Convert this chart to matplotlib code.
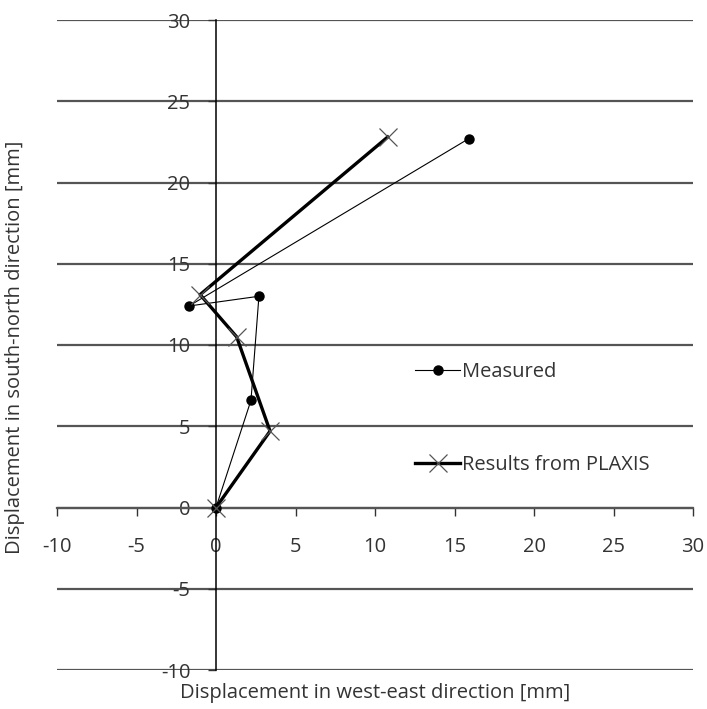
import matplotlib
matplotlib.use('Agg')
import matplotlib.pyplot as plt

# west-east (x) and south-north (y) displacements, mm
measured_x = [0.0, 2.2, 2.7, -1.7, 15.9]
measured_y = [0.0, 6.6, 13.0, 12.4, 22.7]
plaxis_x = [0.0, 3.4, 1.3, -1.0, 10.8]
plaxis_y = [0.0, 4.7, 10.5, 13.1, 22.8]

x_ticks = [-10, -5, 0, 5, 10, 15, 20, 25, 30]
y_ticks = [-10, -5, 0, 5, 10, 15, 20, 25, 30]


def main():
    plt.rcParams['font.family'] = ['Open Sans', 'DejaVu Sans']
    text_color = '#333333'
    grid_color = '#555555'
    fs = 14.5

    fig = plt.figure(figsize=(7.07, 7.09), dpi=100)
    ax = fig.add_axes([57 / 707, 39 / 709, 636 / 707, 650 / 709])

    ax.set_xlim(-10, 30)
    ax.set_ylim(-10, 30)

    # horizontal gridlines every 5 mm
    for y in y_ticks:
        ax.axhline(y, color=grid_color, lw=1.6, zorder=1)

    ax.plot(measured_x, measured_y, color='black', lw=0.8, marker='o',
            markersize=6.5, label='Measured', zorder=3)
    ax.plot(plaxis_x, plaxis_y, color='black', lw=2.4, marker='x',
            markersize=13, markeredgewidth=0.9, markeredgecolor=grid_color,
            label='Results from PLAXIS', zorder=4)

    # axes cross at the origin
    ax.spines['left'].set_position(('data', 0))
    ax.spines['bottom'].set_position(('data', 0))
    ax.spines['top'].set_visible(False)
    ax.spines['right'].set_visible(False)
    ax.spines['left'].set_linewidth(1.1)
    ax.spines['bottom'].set_linewidth(1.6)
    ax.spines['bottom'].set_color(grid_color)
    for s in ('left', 'bottom'):
        ax.spines[s].set_zorder(2)

    ax.set_xticks(x_ticks)
    ax.set_yticks(y_ticks)
    ax.set_xticklabels([str(t) for t in x_ticks])
    ax.set_yticklabels([str(t) for t in y_ticks])
    ax.tick_params(axis='x', direction='out', length=6, width=1, pad=15,
                   labelsize=fs, labelcolor=text_color, color='#333333')
    ax.tick_params(axis='y', direction='out', length=6, width=1, pad=12.5,
                   labelsize=fs, labelcolor=text_color, color='#333333')

    fig.text(375 / 707, 1 - 693 / 709, 'Displacement in west-east direction [mm]',
             ha='center', va='center', fontsize=fs, color=text_color)
    fig.text(15 / 707, 1 - 347 / 709, 'Displacement in south-north direction [mm]',
             ha='center', va='center', rotation=90, fontsize=fs, color=text_color)

    ax.legend(loc='center left', bbox_to_anchor=(0.563, 0.387), frameon=False,
              handlelength=2.25, handletextpad=0.1, labelspacing=3.6,
              borderpad=0, borderaxespad=0, fontsize=fs, labelcolor=text_color)

    fig.savefig('out.png', dpi=100)


if __name__ == '__main__':
    main()
